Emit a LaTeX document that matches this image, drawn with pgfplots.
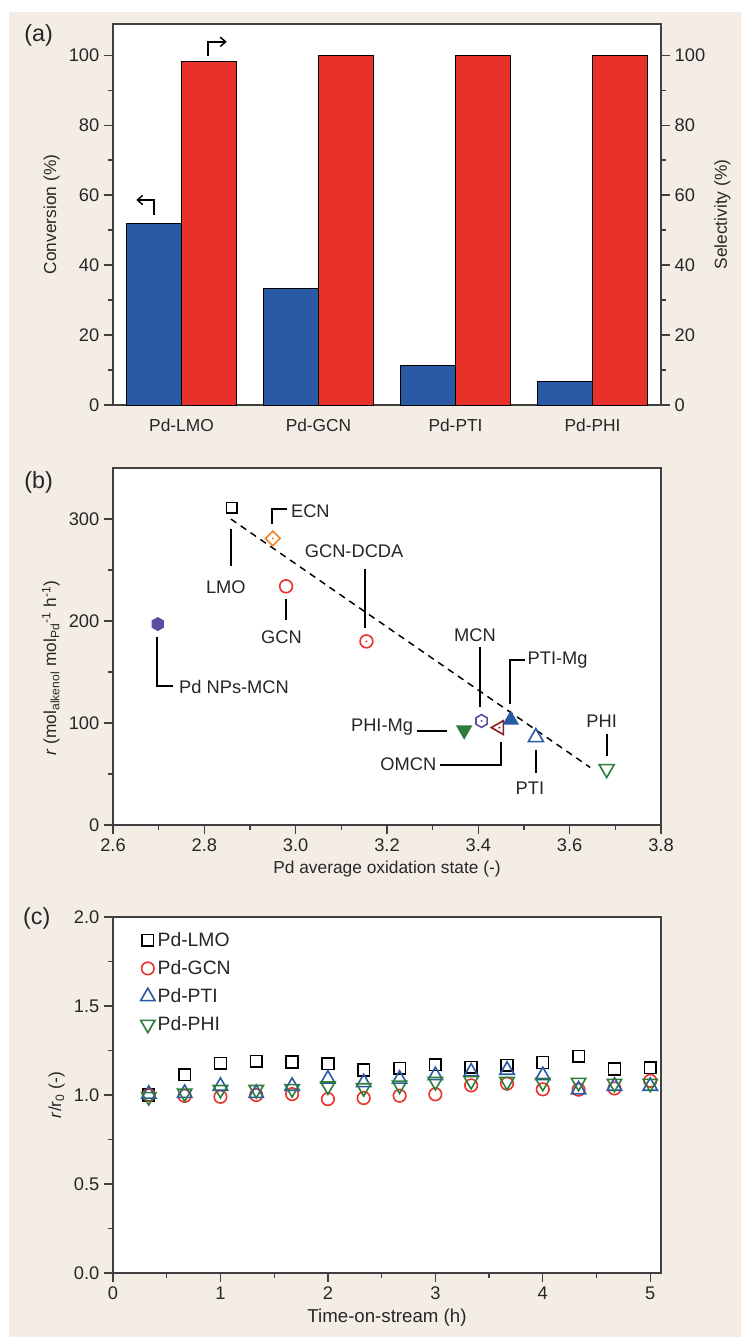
\documentclass[border=0pt]{standalone}
\usepackage{fontspec}
\setmainfont{Liberation Sans}
\usepackage{pgfplots}
\pgfplotsset{compat=1.18}
\usetikzlibrary{arrows.meta}

\definecolor{bg}{RGB}{244,237,230}
\definecolor{cblue}{RGB}{42,89,166}
\definecolor{cred}{RGB}{233,49,44}
\definecolor{corange}{RGB}{240,130,40}
\definecolor{cpurple}{RGB}{90,78,160}
\definecolor{cgreen}{RGB}{46,125,58}
\definecolor{cdred}{RGB}{140,30,30}

\newcommand{\fs}{\fontsize{13}{15.5}\selectfont}
\newcommand{\ft}{\fontsize{13.7}{16}\selectfont}

% extra marks
\pgfdeclareplotmark{hexagon*}{%
  \pgfpathmoveto{\pgfpointpolar{90}{\pgfplotmarksize}}%
  \pgfpathlineto{\pgfpointpolar{150}{\pgfplotmarksize}}%
  \pgfpathlineto{\pgfpointpolar{210}{\pgfplotmarksize}}%
  \pgfpathlineto{\pgfpointpolar{270}{\pgfplotmarksize}}%
  \pgfpathlineto{\pgfpointpolar{330}{\pgfplotmarksize}}%
  \pgfpathlineto{\pgfpointpolar{30}{\pgfplotmarksize}}%
  \pgfpathclose\pgfusepathqfillstroke}
\pgfdeclareplotmark{hexdot}{%
  \pgfpathmoveto{\pgfpointpolar{90}{\pgfplotmarksize}}%
  \pgfpathlineto{\pgfpointpolar{150}{\pgfplotmarksize}}%
  \pgfpathlineto{\pgfpointpolar{210}{\pgfplotmarksize}}%
  \pgfpathlineto{\pgfpointpolar{270}{\pgfplotmarksize}}%
  \pgfpathlineto{\pgfpointpolar{330}{\pgfplotmarksize}}%
  \pgfpathlineto{\pgfpointpolar{30}{\pgfplotmarksize}}%
  \pgfpathclose\pgfusepathqstroke
  \pgfpathcircle{\pgfpointorigin}{0.8pt}\pgfusepathqfill}
\pgfdeclareplotmark{odot}{%
  \pgfpathcircle{\pgfpointorigin}{\pgfplotmarksize}\pgfusepathqstroke
  \pgfpathcircle{\pgfpointorigin}{0.8pt}\pgfusepathqfill}
\pgfdeclareplotmark{diadot}{%
  \pgfpathmoveto{\pgfpoint{0pt}{\pgfplotmarksize}}%
  \pgfpathlineto{\pgfpoint{\pgfplotmarksize}{0pt}}%
  \pgfpathlineto{\pgfpoint{0pt}{-\pgfplotmarksize}}%
  \pgfpathlineto{\pgfpoint{-\pgfplotmarksize}{0pt}}%
  \pgfpathclose\pgfusepathqstroke
  \pgfpathcircle{\pgfpointorigin}{0.8pt}\pgfusepathqfill}
\pgfdeclareplotmark{tridot}{%
  \pgfpathmoveto{\pgfpointpolar{90}{\pgfplotmarksize}}%
  \pgfpathlineto{\pgfpointpolar{210}{\pgfplotmarksize}}%
  \pgfpathlineto{\pgfpointpolar{330}{\pgfplotmarksize}}%
  \pgfpathclose\pgfusepathqstroke
  \pgfpathcircle{\pgfpointorigin}{0.8pt}\pgfusepathqfill}

\pgfplotsset{
  base/.style={
    scale only axis, width=411pt, anchor=south west,
    tick align=outside, major tick length=6.75pt, minor tick length=3.75pt,
    axis line style={black!75, line width=0.9pt},
    tick style={black!75, line width=0.9pt},
    tick label style={font=\ft, text=black!85},
    label style={font=\fs, text=black!85},
    /pgf/number format/assume math mode=true,
    axis background/.style={fill=white},
    ytick pos=left, xtick pos=bottom,
  },
  mk/.style={only marks, line width=1.2pt},
}

\begin{document}
\begin{tikzpicture}
\useasboundingbox (0pt,0pt) rectangle (555.75pt,-1002.75pt);
\fill[white] (0pt,0pt) rectangle (555.75pt,-1002.75pt);
\fill[bg] (6.75pt,-9pt) rectangle (555.75pt,-1002.75pt);

% ---------- (a) ----------
\begin{axis}[base, at={(84.75pt,-303.75pt)}, height=285.75pt,
  xmin=-0.5, xmax=3.5, ymin=0, ymax=108.9,
  xtick={0,1,2,3}, xticklabels={Pd-LMO,Pd-GCN,Pd-PTI,Pd-PHI},
  xticklabel style={font=\fs},
  major x tick style={draw=none},
  ytick={0,20,...,100}, minor ytick={10,30,...,90},
  ylabel={Conversion (\%)},
  ybar, bar width=0.4,
]
\addplot[fill=cblue, draw=black, line width=0.6pt, bar shift=-0.2]
  coordinates {(0,51.8) (1,33.2) (2,11.4) (3,6.7)};
\addplot[fill=cred, draw=black, line width=0.6pt, bar shift=0.2]
  coordinates {(0,98.3) (1,100) (2,100) (3,100)};
\draw[line width=1.1pt, -{Straight Barb[length=4pt,width=7pt]}]
  (axis cs:-0.202,54.3) -- (axis cs:-0.202,58.6) -- (axis cs:-0.33,58.6);
\draw[line width=1.1pt, -{Straight Barb[length=4pt,width=7pt]}]
  (axis cs:0.194,99.7) -- (axis cs:0.194,103.8) -- (axis cs:0.33,103.8);
\end{axis}
\begin{axis}[base, at={(84.75pt,-303.75pt)}, height=285.75pt,
  axis background/.style={},
  xmin=-0.5, xmax=3.5, ymin=0, ymax=108.9,
  axis x line=none, axis y line*=right, ytick pos=right,
  ytick={0,20,...,100}, minor ytick={10,30,...,90},
  ylabel={Selectivity (\%)},
]
\addplot[draw=none] coordinates {(0,0)};
\end{axis}

% ---------- (b) ----------
\begin{axis}[base, at={(84.75pt,-618.75pt)}, height=267.75pt,
  xmin=2.6, xmax=3.8, ymin=0, ymax=350,
  xtick={2.6,2.8,3.0,3.2,3.4,3.6,3.8}, minor xtick={2.7,2.9,3.1,3.3,3.5,3.7},
  ytick={0,100,200,300}, minor ytick={50,150,250},
  xticklabel style={/pgf/number format/.cd, fixed, fixed zerofill, precision=1},
  xlabel={Pd average oxidation state (-)},
  ylabel={\textit{r} (mol\textsubscript{alkenol} mol\textsubscript{Pd}\textsuperscript{-1} h\textsuperscript{-1})},
  ylabel style={at={(ticklabel cs:0.44)}},
]
\addplot[black, dashed, line width=1.1pt, dash pattern=on 5pt off 4pt]
  coordinates {(2.858,300) (3.645,56.4)};
\addplot[mk, black, mark=square, mark size=4pt] coordinates {(2.86,311)};
\addplot[mk, corange, mark=diadot, mark size=5.5pt] coordinates {(2.95,281)};
\addplot[mk, cred, mark=o, mark size=4.8pt] coordinates {(2.979,234)};
\addplot[mk, cred, mark=odot, mark size=4.8pt] coordinates {(3.155,180)};
\addplot[mk, cpurple, mark=hexagon*, mark size=4.6pt] coordinates {(2.698,197)};
\addplot[mk, cpurple, mark=hexdot, mark size=4.8pt] coordinates {(3.407,102)};
\addplot[mk, cgreen, mark=triangle*, mark size=6pt, mark options={rotate=180}] coordinates {(3.369,93)};
\addplot[mk, cdred, mark=tridot, mark size=6pt, mark options={rotate=90}] coordinates {(3.446,95.5)};
\addplot[mk, cblue, mark=triangle*, mark size=6pt] coordinates {(3.471,103)};
\addplot[mk, cblue, mark=triangle, mark size=6.5pt] coordinates {(3.526,86)};
\addplot[mk, cgreen, mark=triangle, mark size=6.5pt, mark options={rotate=180}] coordinates {(3.681,55)};
\begin{scope}[line width=1.4pt, every node/.style={font=\ft, inner sep=0pt, text=black!85}]
\draw (axis cs:2.9475,294.9) -- (axis cs:2.9475,310.2) -- (axis cs:2.98,310.2);
\node[anchor=west] at (axis cs:2.988,308) {ECN};
\draw (axis cs:2.858,290) -- (axis cs:2.858,254);
\node at (axis cs:2.847,233) {LMO};
\draw (axis cs:2.979,221.6) -- (axis cs:2.979,200.5);
\node at (axis cs:2.969,184) {GCN};
\node at (axis cs:3.128,268.8) {GCN-DCDA};
\draw (axis cs:3.152,251.4) -- (axis cs:3.152,192.8);
\draw (axis cs:2.6957,184) -- (axis cs:2.6957,135.9) -- (axis cs:2.7307,135.9);
\node[anchor=west] at (axis cs:2.743,135) {Pd NPs-MCN};
\node at (axis cs:3.3926,185.7) {MCN};
\draw (axis cs:3.4036,174.7) -- (axis cs:3.4036,116);
\draw (axis cs:3.4693,118.3) -- (axis cs:3.4693,162) -- (axis cs:3.502,162);
\node[anchor=west] at (axis cs:3.506,162) {PTI-Mg};
\node[anchor=east] at (axis cs:3.259,96.1) {PHI-Mg};
\draw (axis cs:3.2663,91.9) -- (axis cs:3.332,91.9);
\node[anchor=east] at (axis cs:3.310,59.6) {OMCN};
\draw (axis cs:3.316,58.9) -- (axis cs:3.450,58.9) -- (axis cs:3.450,81.4);
\node at (axis cs:3.513,35.9) {PTI};
\draw (axis cs:3.526,73.3) -- (axis cs:3.526,51.1);
\node at (axis cs:3.670,102) {PHI};
\draw (axis cs:3.682,89.6) -- (axis cs:3.682,67.4);
\end{scope}
\end{axis}

% ---------- (c) ----------
\begin{axis}[base, at={(84.75pt,-954.75pt)}, height=267pt,
  xmin=0, xmax=5.1, ymin=0, ymax=2,
  xtick={0,1,2,3,4,5}, minor xtick={0.5,1.5,2.5,3.5,4.5},
  ytick={0,0.5,1,1.5,2}, minor ytick={0.25,0.75,1.25,1.75},
  yticklabel style={/pgf/number format/.cd, fixed, fixed zerofill, precision=1},
  xlabel={Time-on-stream (h)},
  xlabel style={font=\fontsize{14}{16}\selectfont},
  ylabel={\textit{r}/r\textsubscript{0} (-)},
  legend style={at={(0.05,0.965)}, anchor=north west, draw=none, fill=none,
    font=\fontsize{14.5}{17}\selectfont, row sep=5pt, inner sep=0pt, text=black!85},
  legend cell align=left,
]
\addplot[mk, black, mark=square, mark size=4.4pt] coordinates {
 (0.333,1.0) (0.667,1.114) (1,1.178) (1.333,1.189) (1.667,1.185) (2,1.176)
 (2.333,1.140) (2.667,1.150) (3,1.170) (3.333,1.155) (3.667,1.167) (4,1.183)
 (4.333,1.217) (4.667,1.146) (5,1.154)};
\addplot[mk, cred, mark=o, mark size=4.7pt] coordinates {
 (0.333,1.0) (0.667,0.995) (1,0.99) (1.333,1.0) (1.667,1.005) (2,0.977)
 (2.333,0.983) (2.667,0.996) (3,1.004) (3.333,1.054) (3.667,1.064) (4,1.032)
 (4.333,1.03) (4.667,1.037) (5,1.08)};
\addplot[mk, cblue, mark=triangle, mark size=6.2pt] coordinates {
 (0.333,1.005) (0.667,1.01) (1,1.05) (1.333,1.01) (1.667,1.05) (2,1.09)
 (2.333,1.07) (2.667,1.09) (3,1.11) (3.333,1.13) (3.667,1.14) (4,1.11)
 (4.333,1.03) (4.667,1.05) (5,1.05)};
\addplot[mk, cgreen, mark=triangle, mark size=6.2pt, mark options={rotate=180}] coordinates {
 (0.333,0.99) (0.667,1.01) (1,1.03) (1.333,1.03) (1.667,1.035) (2,1.05)
 (2.333,1.04) (2.667,1.055) (3,1.075) (3.333,1.08) (3.667,1.075) (4,1.07)
 (4.333,1.07) (4.667,1.065) (5,1.065)};
\legend{Pd-LMO, Pd-GCN, Pd-PTI, Pd-PHI}
\end{axis}

\node[font=\fontsize{17.5}{20}\selectfont, text=black!85] at (29pt,-26.25pt) {(a)};
\node[font=\fontsize{17.5}{20}\selectfont, text=black!85] at (29pt,-361.5pt) {(b)};
\node[font=\fontsize{17.5}{20}\selectfont, text=black!85] at (27.5pt,-688.5pt) {(c)};
\end{tikzpicture}
\end{document}
